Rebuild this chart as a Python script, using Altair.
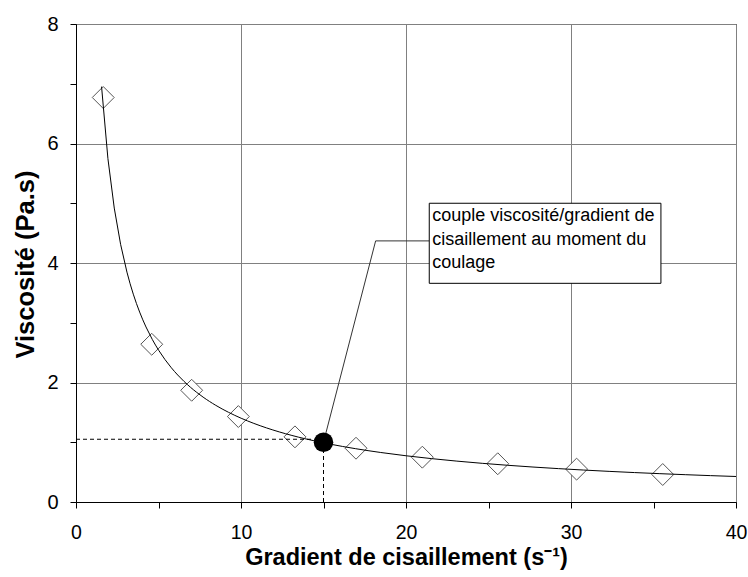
import altair as alt
import pandas as pd

# Measured shear-rate / viscosity pairs
shear_rate = [1.65, 4.59, 7.01, 9.84, 13.27, 16.97, 20.99, 25.56, 30.34, 35.56]
viscosity = [6.77, 2.64, 1.87, 1.43, 1.09, 0.90, 0.75, 0.64, 0.55, 0.46]

# Operating point at casting time
casting_rate = [15.0]
casting_visc = [1.0]

# Dashed guides towards the axes
guide_h_x = [0.0, 15.0]
guide_h_y = [1.05, 1.05]
guide_v_x = [15.0, 15.0]
guide_v_y = [0.0, 1.0]

# Callout leader line and box
leader_x = [15.0, 18.16, 21.41]
leader_y = [1.0, 4.37, 4.37]
box_x = [21.41, 35.45]
box_y = [3.66, 5.0]
note_lines = ["couple viscosité/gradient de", "cisaillement au moment du", "coulage"]
note_y = [4.78, 4.39, 4.0]

FONT = "Liberation Sans"
xs = alt.Scale(domain=[0, 40], nice=False, zero=False)
ys = alt.Scale(domain=[0, 8], nice=False, zero=False)

points = pd.DataFrame({"x": shear_rate, "y": viscosity})

x_axis = alt.Axis(
    values=list(range(0, 41, 5)),
    labelExpr="datum.value % 10 === 0 ? datum.label : ''",
    labelFlush=False, labelOverlap=False,
    gridOpacity={"condition": {"test": "datum.value % 10 === 0", "value": 1}, "value": 0},
    gridColor="#808080", gridWidth=1,
    tickSize=6, tickColor="#000", domainColor="#000",
    labelFont=FONT, labelFontSize=19.5, labelColor="#000", labelPadding=15,
    title="Gradient de cisaillement (s⁻¹)", titleFont=FONT, titleFontSize=23.5,
    titleFontWeight="bold", titleColor="#000",
    titleY=62, titleBaseline="alphabetic",
)
y_axis = alt.Axis(
    values=list(range(0, 9)),
    labelExpr="datum.value % 2 === 0 ? datum.label : ''",
    labelFlush=False, labelOverlap=False,
    gridOpacity={"condition": {"test": "datum.value % 2 === 0", "value": 1}, "value": 0},
    gridColor="#808080", gridWidth=1,
    tickSize=6, tickColor="#000", domainColor="#000",
    labelFont=FONT, labelFontSize=20, labelColor="#000", labelPadding=12,
    title="Viscosité (Pa.s)", titleFont=FONT, titleFontSize=25.5,
    titleFontWeight="bold", titleColor="#000",
    titleX=-43, titleY=240, titleBaseline="alphabetic", titleAlign="center", titleAngle=270,
)

X = alt.X("x:Q", scale=xs, axis=x_axis)
Y = alt.Y("y:Q", scale=ys, axis=y_axis)

markers = alt.Chart(points).mark_point(
    shape="diamond", size=480, filled=True, fill="white",
    stroke="#555555", strokeWidth=1, opacity=1,
).encode(x=X, y=Y)

# Power-law trend line fitted to the measurements
trend = alt.Chart(points).transform_regression(
    "x", "y", method="pow", extent=[1.55, 40]
).mark_line(color="black", strokeWidth=1).encode(x=X, y=Y)

guides = pd.DataFrame({
    "x": guide_h_x + guide_v_x,
    "y": guide_h_y + guide_v_y,
    "g": ["h", "h", "v", "v"],
})
guide_lines = alt.Chart(guides).mark_line(
    color="black", strokeWidth=1, strokeDash=[4, 3]
).encode(x=X, y=Y, detail="g:N")

leader = alt.Chart(pd.DataFrame({"x": leader_x, "y": leader_y, "o": [0, 1, 2]})).mark_line(
    color="#333333", strokeWidth=1
).encode(x=X, y=Y, order="o:O")

box = alt.Chart(pd.DataFrame({"x": [box_x[0]], "x2": [box_x[1]], "y": [box_y[0]], "y2": [box_y[1]]})).mark_rect(
    fill="white", stroke="black", strokeWidth=1
).encode(x=X, x2="x2:Q", y=Y, y2="y2:Q")

note = alt.Chart(pd.DataFrame({"x": [box_x[0]] * 3, "y": note_y, "t": note_lines})).mark_text(
    align="left", baseline="middle", font=FONT, fontSize=18, color="black", dx=3
).encode(x=X, y=Y, text="t:N")

operating = alt.Chart(pd.DataFrame({"x": casting_rate, "y": casting_visc})).mark_point(
    shape="circle", size=380, filled=True, color="black", opacity=1
).encode(x=X, y=Y)

chart = alt.layer(
    markers, guide_lines, trend, leader, box, note, operating
).properties(
    width=660, height=478,
    padding={"left": 76, "top": 24, "right": 12, "bottom": 75},
    autosize=alt.AutoSizeParams(type="none"),
    background="white",
).configure_view(stroke="black", strokeWidth=1)

chart.save("out.html", embed_options={"renderer": "svg", "actions": False})
